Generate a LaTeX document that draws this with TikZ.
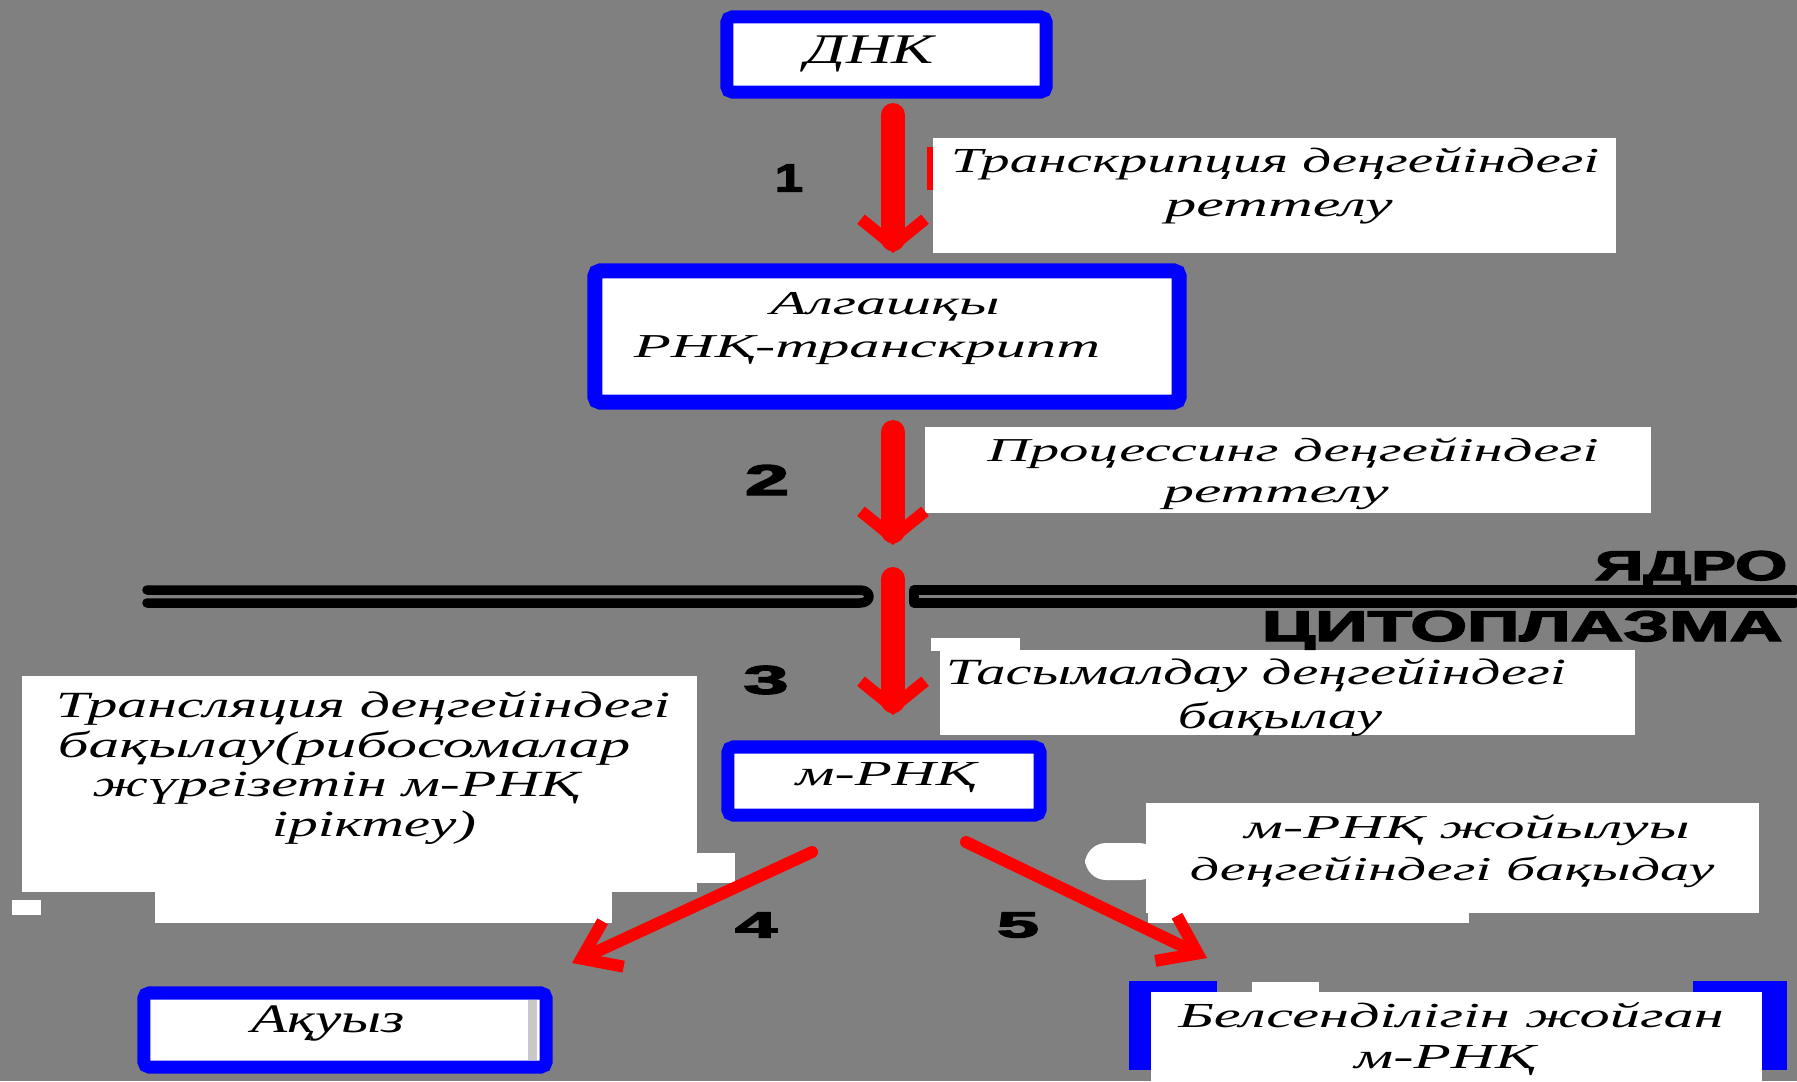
\documentclass[tikz,border=0pt]{standalone}
\usepackage{fontspec}
\setmainfont{Liberation Serif}
\newfontfamily\heavy{Liberation Sans Bold}[FakeBold=3]
\usetikzlibrary{arrows.meta}
\definecolor{bg}{HTML}{808080}
\definecolor{bblue}{HTML}{0000FF}
\definecolor{rred}{HTML}{FF0000}
\definecolor{lgray}{HTML}{C8C8C8}
\newcommand\fw[2]{\resizebox{#1cm}{\height}{#2}}
\newcommand\hv[3]{\resizebox{#1cm}{#2cm}{\heavy #3}}
\newcommand\fs[1]{\fontsize{#1}{#1}\selectfont\itshape}
\begin{document}
\begin{tikzpicture}[x=0.01cm,y=-0.01cm,
  bluebox/.style={draw=bblue, fill=white, line width=0.13cm, rounded corners=1.5pt, outer sep=0pt, inner sep=0pt},
  lblbox/.style={fill=white, inner sep=0pt, outer sep=0pt},
  txt/.style={inner sep=0pt, outer sep=0pt, anchor=base},
  num/.style={inner sep=0pt, outer sep=0pt, anchor=center},
  varrow/.style={draw=rred, line width=0.24cm, line cap=round, -{Straight Barb[line width=0.12cm, length=0.26cm, width=0.64cm]}},
  darrow/.style={draw=rred, line width=0.12cm, line cap=round, -{Straight Barb[length=0.35cm,width=0.5cm]}},
  membrane/.style={draw=black, line width=0.095cm, line cap=round, line join=round},
]
\fill[bg] (0,0) rectangle (1797,1081);
\useasboundingbox (0,0) rectangle (1797,1081);

% white label boxes
\node[lblbox, minimum width=6.83cm, minimum height=1.15cm] (t1box) at (1274.5,195.5) {};
\fill[rred] (927,147) rectangle (933,190);
\node[lblbox, minimum width=7.26cm, minimum height=0.86cm] (p2box) at (1288,470) {};
\node[lblbox, minimum width=6.95cm, minimum height=0.85cm] (t3box) at (1287.5,692.5) {};
\fill[white] (931,638) rectangle (1020,651);
\node[lblbox, minimum width=6.75cm, minimum height=2.16cm] (trbox) at (359.5,784) {};
\fill[white] (696,853) rectangle (735,883);
\fill[white] (155,891) rectangle (612,923);
\fill[white] (12,900) rectangle (41,915);
\node[lblbox, minimum width=6.13cm, minimum height=1.10cm] (jbox) at (1452.5,858) {};
\fill[white, rounded corners=6pt] (1085,843) rectangle (1160,880);
\fill[white] (1148,912) rectangle (1469,923);

% membrane
\draw[membrane] (147,590) -- (860,590) .. controls (872,590) and (872,603) .. (860,603) -- (147,603);
\draw[membrane] (1795,590) -- (914,590) -- (914,603) -- (1795,603);
\node[anchor=base east, inner sep=0pt] (yadro) at (1788,580) {\hv{1.92}{0.29}{ЯДРО}};
\node[anchor=base east, inner sep=0pt] (cyto) at (1783,641) {\hv{5.20}{0.30}{ЦИТОПЛАЗМА}};

% blue boxes
\node[bluebox, minimum width=3.19cm, minimum height=0.75cm] (dnk) at (886.5,54.5) {};
\node[bluebox, line width=0.15cm, minimum width=5.84cm, minimum height=1.31cm] (alg) at (887,336.5) {};
\node[bluebox, minimum width=3.12cm, minimum height=0.68cm] (mrna) at (884,781) {};
\node[bluebox, minimum width=4.02cm, minimum height=0.74cm] (akuyz) at (345,1030) {};
\fill[lgray] (528,1000) rectangle (537,1060);
\fill[bblue] (1129,981) rectangle (1787,1070);
\fill[bg] (1217,981) rectangle (1693,992);
\node[lblbox, minimum width=6.11cm, minimum height=0.89cm] (bels) at (1456.5,1036.5) {};
\fill[white] (1252,982) rectangle (1319,992);

% arrows
\coordinate (ax) at (893,0);
\coordinate (gapin) at (893,545);
\coordinate (gapout) at (893,579);
\draw[varrow, shorten <=0.23cm, shorten >=0.18cm] (dnk.south -| ax) -- (alg.north -| ax);
\draw[varrow, shorten <=0.30cm] (alg.south -| ax) -- (gapin);
\draw[varrow, shorten >=0.32cm] (gapout) -- (mrna.north -| ax);
\coordinate (a4s) at (812,852);
\coordinate (a4e) at (572,963);
\coordinate (a5s) at (966,842);
\coordinate (a5e) at (1207,958);
\draw[darrow] (a4s) -- (a4e);
\draw[darrow] (a5s) -- (a5e);

% numbers
\node[num] (n1) at (789,178) {\hv{0.28}{0.27}{1}};
\node[num] (n2) at (767,480) {\hv{0.44}{0.30}{2}};
\node[num] (n3) at (766,680) {\hv{0.45}{0.28}{3}};
\node[num] (n4) at (756,925) {\hv{0.42}{0.25}{4}};
\node[num] (n5) at (1018,925) {\hv{0.42}{0.25}{5}};

% texts
\node[txt, font=\fs{12}] (dnkt) at (870,63) {\fw{1.28}{ДНК}};
\node[txt, font=\fs{10}] (t1a) at (1275,172) {\fw{6.48}{Транскрипция деңгейіндегі}};
\node[txt, font=\fs{10}] (t1b) at (1279,216) {\fw{2.27}{реттелу}};
\node[txt, font=\fs{9.5}] (alga) at (885,314) {\fw{2.29}{Алгашқы}};
\node[txt, font=\fs{9.5}] (algb) at (867,357) {\fw{4.66}{РНҚ-транскрипт}};
\node[txt, font=\fs{9.5}] (p2a) at (1293,461) {\fw{6.11}{Процессинг деңгейіндегі}};
\node[txt, font=\fs{9.5}] (p2b) at (1276,502) {\fw{2.25}{реттелу}};
\node[txt, font=\fs{10.5}] (t3a) at (1256,684) {\fw{6.20}{Тасымалдау деңгейіндегі}};
\node[txt, font=\fs{10.5}] (t3b) at (1280,728) {\fw{2.04}{бақылау}};
\node[txt, font=\fs{10.5}] (tra) at (363,717) {\fw{6.14}{Трансляция деңгейіндегі}};
\node[txt, font=\fs{10.5}] (trb) at (344,757) {\fw{5.72}{бақылау(рибосомалар}};
\node[txt, font=\fs{10.5}] (trc) at (336,796) {\fw{4.87}{жүргізетін м-РНҚ}};
\node[txt, font=\fs{10.5}] (trd) at (374,836) {\fw{2.04}{іріктеу)}};
\node[txt, font=\fs{10}] (mrnat) at (886,785) {\fw{1.80}{м-РНҚ}};
\node[txt, font=\fs{9.5}] (ja) at (1467,838) {\fw{4.45}{м-РНҚ жойылуы}};
\node[txt, font=\fs{9.5}] (jb) at (1452,880) {\fw{5.24}{деңгейіндегі бақыдау}};
\node[txt, font=\fs{11.5}] (akt) at (328,1032) {\fw{1.53}{Ақуыз}};
\node[txt, font=\fs{10}] (belsa) at (1451,1027) {\fw{5.45}{Белсенділігін жойган}};
\node[txt, font=\fs{10}] (belsb) at (1445,1068) {\fw{1.81}{м-РНҚ}};
\end{tikzpicture}
\end{document}
